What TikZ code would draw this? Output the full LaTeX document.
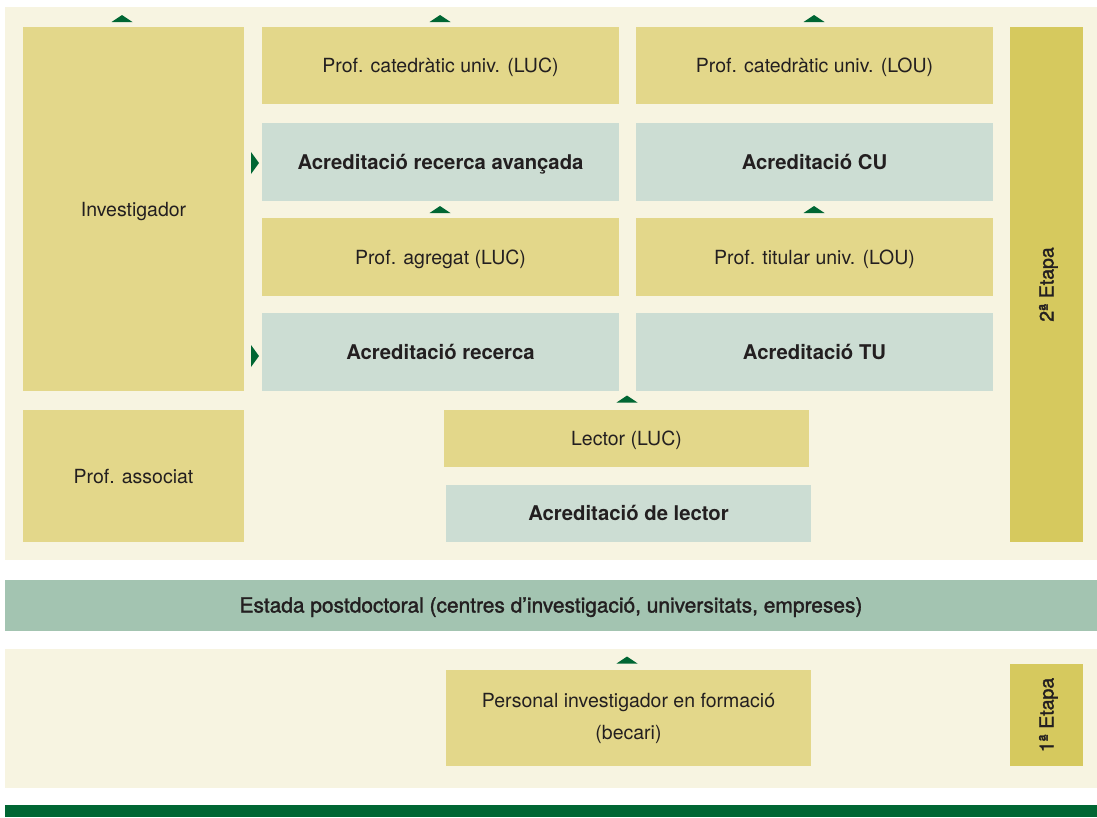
\documentclass[tikz,border=0pt]{standalone}
\usepackage{fontspec}
\setmainfont{TeX Gyre Heros}
\newfontfamily\medfont[FakeBold=1.6]{TeX Gyre Heros}
\definecolor{panel}{HTML}{F7F4E1}
\definecolor{ybox}{HTML}{E3D78A}
\definecolor{gbox}{HTML}{CCDDD3}
\definecolor{etapa}{HTML}{D6C95E}
\definecolor{band}{HTML}{A3C4B1}
\definecolor{dgreen}{HTML}{006633}
\definecolor{txt}{HTML}{231F20}
\tikzset{
  every node/.style={inner sep=0pt, outer sep=0pt, text=txt, font=\fontsize{19.5}{32}\selectfont, align=center},
  capc/.style={text height=14pt, text depth=0pt},
  ybx/.style={fill=ybox, capc},
  gbx/.style={fill=gbox, capc, font=\fontsize{20.3}{32}\selectfont\bfseries},
  etbx/.style={fill=etapa},
  ettxt/.style={rotate=90, capc, font=\fontsize{19.5}{32}\selectfont\medfont},
  uptri/.pic={\fill[dgreen] (-10.5,3.5) -- (10.5,3.5) -- (0,-3.5) -- cycle;},
  rttri/.pic={\fill[dgreen] (-4,-11) -- (-4,11) -- (4,0) -- cycle;}
}
\begin{document}
\begin{tikzpicture}[x=1pt,y=-1pt]
\useasboundingbox (0,0) rectangle (1097,817);
\fill[white] (0,0) rectangle (1097,817);
% panels
\fill[panel] (5,7) rectangle (1097,560);
\fill[panel] (5,649) rectangle (1097,788);
\fill[dgreen] (5,805) rectangle (1097,817);
\node[fill=band, minimum width=1092pt, minimum height=51pt, capc, font=\fontsize{20.9}{32}\selectfont\medfont] (estada) at (551,605.5) {Estada postdoctoral (centres d’investigació, universitats, empreses)};
% boxes
\node[ybx, minimum width=221pt, minimum height=364pt] (inv) at (133.5,209) {Investigador};
\node[ybx, minimum width=221pt, minimum height=132pt] (assoc) at (133.5,476) {Prof. associat};
\node[ybx, minimum width=357pt, minimum height=77pt] (catLUC) at (440.5,65.5) {Prof. catedràtic univ. (LUC)};
\node[ybx, minimum width=357pt, minimum height=77pt] (catLOU) at (814.5,65.5) {Prof. catedràtic univ. (LOU)};
\node[gbx, minimum width=357pt, minimum height=78pt] (acrAv) at (440.5,162) {Acreditació recerca avançada};
\node[gbx, minimum width=357pt, minimum height=78pt] (acrCU) at (814.5,162) {Acreditació CU};
\node[ybx, minimum width=357pt, minimum height=78pt] (agr) at (440.5,257) {Prof. agregat (LUC)};
\node[ybx, minimum width=357pt, minimum height=78pt] (tit) at (814.5,257) {Prof. titular univ. (LOU)};
\node[gbx, minimum width=357pt, minimum height=78pt] (acrR) at (440.5,352) {Acreditació recerca};
\node[gbx, minimum width=357pt, minimum height=78pt] (acrTU) at (814.5,352) {Acreditació TU};
\node[ybx, minimum width=365pt, minimum height=57pt] (lector) at (626.5,438.5) {Lector (LUC)};
\node[gbx, minimum width=365pt, minimum height=57pt] (acrL) at (628.5,513.5) {Acreditació de lector};
\node[etbx, minimum width=73pt, minimum height=515pt] (et2) at (1046.5,284.5) {};
\node[ettxt] (et2t) at (et2.center) {2ª Etapa};
\node[fill=ybox, minimum width=365pt, minimum height=96pt] (pers) at (628.5,718) {};
\node[capc] (pers1) at (628.5,700) {Personal investigador en formació};
\node[capc] (pers2) at (628.5,732) {(becari)};
\node[etbx, minimum width=73pt, minimum height=102pt] (et1) at (1046.5,715) {};
\node[ettxt] (et1t) at (et1.center) {1ª Etapa};
% markers
\pic at (122,18.5) {uptri};
\pic at (440,18.5) {uptri};
\pic at (814,18.5) {uptri};
\pic at (440,209.5) {uptri};
\pic at (814,209.5) {uptri};
\pic at (627,399) {uptri};
\pic at (627,660) {uptri};
\pic at (255,163) {rttri};
\pic at (255,356) {rttri};
\end{tikzpicture}
\end{document}
